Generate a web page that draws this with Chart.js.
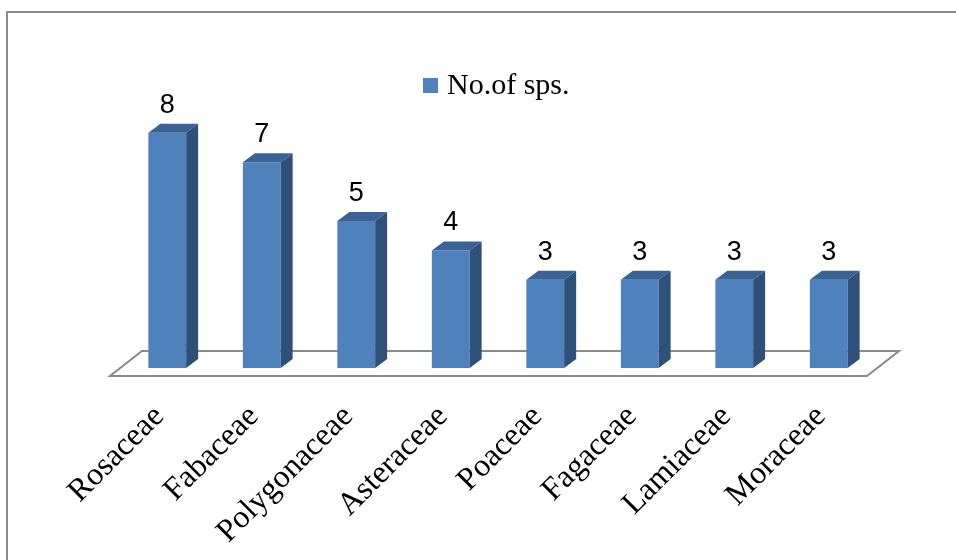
<!DOCTYPE html>
<html>
<head>
<meta charset="utf-8">
<script src="https://cdn.jsdelivr.net/npm/chart.js@4.4.1/dist/chart.umd.min.js"></script>
<style>
  html, body { margin: 0; padding: 0; background: #fff; overflow: hidden; }
  #wrap { width: 956px; height: 560px; position: relative; }
</style>
</head>
<body>
<div id="wrap"><canvas id="chart" width="956" height="560"></canvas></div>
<script>
const families = ['Rosaceae', 'Fabaceae', 'Polygonaceae', 'Asteraceae', 'Poaceae', 'Fagaceae', 'Lamiaceae', 'Moraceae'];
const species = [8, 7, 5, 4, 3, 3, 3, 3];
const seriesName = 'No.of sps.';
const yRange = [0, 10];

const front = '#4f81bd';
const side = '#2f5078';
const topFace = '#3b6294';
const depthX = 12, depthY = 9;

// fake 3D: floor, side and top faces, value labels, legend, frame
const bars3d = {
    id: 'bars3d',
    beforeDraw(chart) {
        const ctx = chart.ctx;
        ctx.save();
        ctx.fillStyle = '#fff';
        ctx.fillRect(0, 0, chart.width, chart.height);
        ctx.strokeStyle = '#8a8a8a';
        ctx.lineWidth = 2;
        ctx.strokeRect(7, 12, 2000, 2000);
        ctx.restore();
    },
    beforeDatasetsDraw(chart) {
        const ctx = chart.ctx;
        const area = chart.chartArea;
        const base = chart.scales.y.getPixelForValue(0);
        ctx.save();
        ctx.beginPath();
        ctx.moveTo(area.left - 10, base + 8);
        ctx.lineTo(area.right - 9, base + 8);
        ctx.lineTo(area.right + 23, base - 17);
        ctx.lineTo(area.left + 22, base - 17);
        ctx.closePath();
        ctx.fillStyle = '#fff';
        ctx.fill();
        ctx.strokeStyle = '#8a8a8a';
        ctx.lineWidth = 2;
        ctx.stroke();
        ctx.restore();
    },
    afterDatasetsDraw(chart) {
        const ctx = chart.ctx;
        const meta = chart.getDatasetMeta(0);
        ctx.save();
        meta.data.forEach((bar, i) => {
            const l = bar.x - bar.width / 2, r = bar.x + bar.width / 2;
            const t = bar.y, b = bar.base;
            ctx.fillStyle = side;
            ctx.beginPath();
            ctx.moveTo(r, t);
            ctx.lineTo(r + depthX, t - depthY);
            ctx.lineTo(r + depthX, b - depthY);
            ctx.lineTo(r, b);
            ctx.closePath();
            ctx.fill();
            ctx.fillStyle = topFace;
            ctx.beginPath();
            ctx.moveTo(l, t);
            ctx.lineTo(l + depthX, t - depthY);
            ctx.lineTo(r + depthX, t - depthY);
            ctx.lineTo(r, t);
            ctx.closePath();
            ctx.fill();

            ctx.fillStyle = '#000';
            ctx.font = '27px "Liberation Sans", Arial, sans-serif';
            ctx.textAlign = 'center';
            ctx.textBaseline = 'alphabetic';
            ctx.fillText(String(species[i]), bar.x, t - 20);
        });

        // legend
        ctx.fillStyle = front;
        ctx.fillRect(423, 78, 15, 15);
        ctx.fillStyle = '#000';
        ctx.font = '30px "Liberation Serif", "Times New Roman", serif';
        ctx.textAlign = 'left';
        ctx.fillText(seriesName, 447, 94);
        ctx.restore();
    }
};

new Chart(document.getElementById('chart'), {
    type: 'bar',
    data: {
        labels: families,
        datasets: [{
            label: seriesName,
            data: species,
            backgroundColor: front,
            borderWidth: 0,
            categoryPercentage: 1.0,
            barPercentage: 0.4
        }]
    },
    options: {
        responsive: false,
        animation: false,
        events: [],
        layout: { padding: { left: 120, right: 80, top: 74, bottom: 0 } },
        plugins: {
            legend: { display: false },
            tooltip: { enabled: false }
        },
        scales: {
            y: {
                display: false,
                min: yRange[0],
                max: yRange[1]
            },
            x: {
                grid: { display: false, drawTicks: false },
                border: { display: false },
                ticks: {
                    autoSkip: false,
                    minRotation: 45,
                    maxRotation: 45,
                    padding: 30,
                    labelOffset: -8,
                    color: '#000',
                    font: { family: '"Liberation Serif", "Times New Roman", serif', size: 32 }
                },
                afterFit(scale) { scale.height = 192; }
            }
        }
    },
    plugins: [bars3d]
});
</script>
</body>
</html>
